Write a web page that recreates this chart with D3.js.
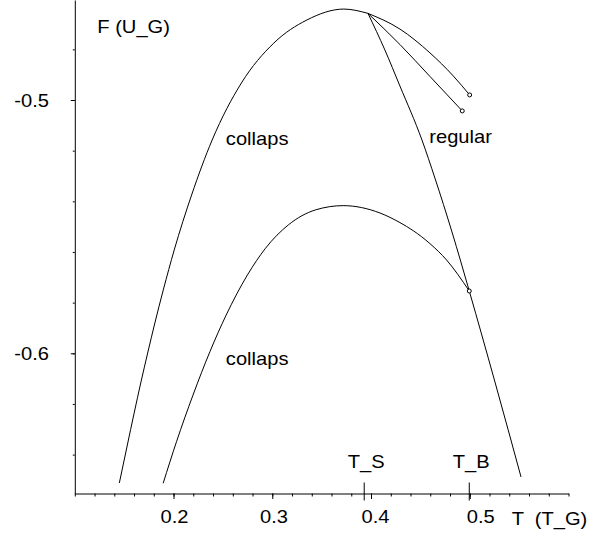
<!DOCTYPE html>
<html>
<head>
<meta charset="utf-8">
<script src="https://cdn.jsdelivr.net/npm/d3@7"></script>
<style>
  html, body { margin: 0; padding: 0; background: #fff; }
  svg { display: block; }
  text { font-family: "Liberation Sans", Arial, sans-serif; font-size: 17.5px; fill: #000; white-space: pre; }
</style>
</head>
<body>
<svg id="chart" width="604" height="535"></svg>
<script>
// ---- data (T in units of T_G, F in units of U_G) ----
const upperCollapsT = [0.1451, 0.1530, 0.1601, 0.1668, 0.1738, 0.1811, 0.1896, 0.2007, 0.2183, 0.2391, 0.2687, 0.3016, 0.3351, 0.3725, 0.3969];
const upperCollapsF = [-0.6512, -0.6366, -0.6236, -0.6117, -0.5999, -0.5880, -0.5750, -0.5592, -0.5375, -0.5158, -0.4933, -0.4775, -0.4684, -0.4641, -0.4658];

const regularTopT = [0.3969, 0.4293, 0.4597, 0.4833, 0.4999];
const regularTopF = [-0.4658, -0.4720, -0.4814, -0.4905, -0.4980];

const regularMidT = [0.3969, 0.4293, 0.4597, 0.4924];
const regularMidF = [-0.4658, -0.4781, -0.4907, -0.5043];

const steepT = [0.3969, 0.4141, 0.4293, 0.4516, 0.4647, 0.4820, 0.4995, 0.5255, 0.5519];
const steepF = [-0.4658, -0.4803, -0.4945, -0.5158, -0.5308, -0.5521, -0.5754, -0.6113, -0.6488];

const lowerCollapsT = [0.1895, 0.2030, 0.2197, 0.2368, 0.2533, 0.2748, 0.2932, 0.3163, 0.3437, 0.3718, 0.4090, 0.4293, 0.4428, 0.4597, 0.4766, 0.4995];
const lowerCollapsF = [-0.6513, -0.6349, -0.6165, -0.5994, -0.5849, -0.5691, -0.5585, -0.5493, -0.5434, -0.5417, -0.5446, -0.5484, -0.5516, -0.5567, -0.5632, -0.5754];

const endPointsT = [0.4999, 0.4924, 0.4995];
const endPointsF = [-0.4980, -0.5043, -0.5754];

const xTickValues = [0.2, 0.3, 0.4, 0.5];
const xTickLabels = ["0.2", "0.3", "0.4", "0.5"];
const yTickValues = [-0.5, -0.6];
const yTickLabels = ["-0.5", "-0.6"];
const specialTickValues = [0.3931, 0.4995];
const specialTickLabels = ["T_S", "T_B"];

const regionLabels = ["collaps", "collaps", "regular"];
const regionLabelT = [0.2530, 0.2530, 0.4590];
const regionLabelF = [-0.5178, -0.6047, -0.5170];

// ---- layout ----
const svg = d3.select("#chart");
const X0 = 74.8, X1 = 568.5, Y0 = 493.5, Y1 = 0;
const x = d3.scaleLinear().domain([0.1, 0.6]).range([X0, X1]);
const y = d3.scaleLinear().domain([-0.65535, -0.46052]).range([Y0, Y1]);
const SX = 1.15; // horizontal stretch of the lettering

function label(txt, px, py, anchor) {
  svg.append("g").attr("transform", `translate(${px},${py})`)
    .append("text").attr("transform", `scale(${SX},1)`)
    .attr("text-anchor", anchor || "start").text(txt);
}

// axes
const xMinor = d3.range(0.1, 0.6001, 0.02);
const yMinor = d3.range(-0.64, -0.4601, 0.02);

const gx = svg.append("g").attr("transform", `translate(0,${Y0})`);
gx.call(d3.axisBottom(x).tickValues(xMinor).tickSize(3).tickSizeOuter(0).tickFormat(""));
gx.append("g").call(d3.axisBottom(x).tickValues(xTickValues).tickSize(5.5).tickSizeOuter(0).tickFormat(""))
  .select(".domain").remove();
const gy = svg.append("g").attr("transform", `translate(${X0},0)`);
gy.call(d3.axisLeft(y).tickValues(yMinor).tickSize(2).tickSizeOuter(0).tickFormat(""));
gy.append("g").call(d3.axisLeft(y).tickValues(yTickValues).tickSize(4).tickSizeOuter(0).tickFormat(""))
  .select(".domain").remove();
svg.selectAll(".domain, .tick line").attr("stroke", "#000").attr("stroke-width", 1);

// special ticks T_S, T_B
svg.selectAll("line.special").data(specialTickValues).enter().append("line")
  .attr("class", "special")
  .attr("x1", d => x(d)).attr("x2", d => x(d))
  .attr("y1", Y0 - 11).attr("y2", Y0 + 7)
  .attr("stroke", "#000").attr("stroke-width", 1);

// tick labels
const xLabelShift = [1, 1.7, 4.5, 11];
xTickValues.forEach((v, i) => label(xTickLabels[i], x(v) + xLabelShift[i], 523.3, "middle"));
yTickValues.forEach((v, i) => label(yTickLabels[i], 49, y(v) + 6.7, "end"));
specialTickValues.forEach((v, i) => label(specialTickLabels[i], x(v) + 2, 468.3, "middle"));

// axis titles
label("F (U_G)", 97.3, 33.3, "start");
label("T  (T_G)", 511.7, 525, "start");

// curves
const line = d3.line().x(d => x(d[0])).y(d => y(d[1])).curve(d3.curveMonotoneX);
const series = [
  [upperCollapsT, upperCollapsF],
  [regularTopT, regularTopF],
  [regularMidT, regularMidF],
  [steepT, steepF],
  [lowerCollapsT, lowerCollapsF]
];
series.forEach(([ts, fs]) => {
  svg.append("path").datum(ts.map((t, i) => [t, fs[i]]))
    .attr("d", line).attr("fill", "none").attr("stroke", "#000").attr("stroke-width", 1);
});

// end points
svg.selectAll("circle.pt").data(endPointsT.map((t, i) => [t, endPointsF[i]])).enter()
  .append("circle").attr("class", "pt")
  .attr("cx", d => x(d[0])).attr("cy", d => y(d[1])).attr("r", 2)
  .attr("fill", "#fff").attr("stroke", "#000").attr("stroke-width", 1);

// region labels
regionLabels.forEach((txt, i) => label(txt, x(regionLabelT[i]), y(regionLabelF[i]), "start"));
</script>
</body>
</html>
